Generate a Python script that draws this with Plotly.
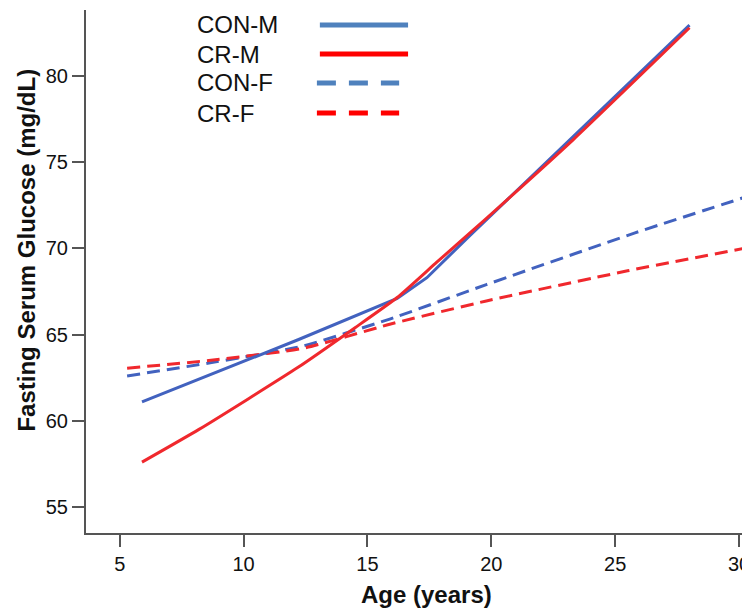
import plotly.graph_objects as go

# ---- data ----
series_names = ["CON-M", "CR-M", "CON-F", "CR-F"]

con_m_age = [5.9, 8.2, 12.2, 16.2, 17.4, 19.1, 28.0]
con_m_glu = [61.1, 62.4, 64.7, 67.1, 68.3, 70.7, 82.95]

cr_m_age = [5.9, 8.2, 12.2, 14.5, 16.2, 17.8, 19.3, 23.3, 28.0]
cr_m_glu = [57.6, 59.5, 63.1, 65.4, 67.15, 69.2, 71.1, 76.3, 82.8]

con_f_age = [5.3, 8.6, 12.3, 15.9, 19.8, 25.8, 30.2]
con_f_glu = [62.6, 63.35, 64.3, 65.9, 67.9, 70.9, 72.95]

cr_f_age = [5.3, 8.6, 12.4, 15.9, 19.8, 25.5, 30.2]
cr_f_glu = [63.05, 63.5, 64.2, 65.6, 66.95, 68.7, 70.0]

x_ticks = [5, 10, 15, 20, 25, 30]
y_ticks = [55, 60, 65, 70, 75, 80]

BLUE = "#4262BF"
RED = "#F0282D"
LEG_BLUE = "#4F81BD"
LEG_RED = "#FF0000"
FONT = "Liberation Sans, Arial, sans-serif"

fig = go.Figure()
fig.add_trace(go.Scatter(x=con_f_age, y=con_f_glu, mode="lines", name=series_names[2],
                         line=dict(color=BLUE, width=3, dash="13px,7px", shape="spline", smoothing=0.5)))
fig.add_trace(go.Scatter(x=cr_f_age, y=cr_f_glu, mode="lines", name=series_names[3],
                         line=dict(color=RED, width=3, dash="13px,7px", shape="spline", smoothing=0.5)))
fig.add_trace(go.Scatter(x=con_m_age, y=con_m_glu, mode="lines", name=series_names[0],
                         line=dict(color=BLUE, width=3)))
fig.add_trace(go.Scatter(x=cr_m_age, y=cr_m_glu, mode="lines", name=series_names[1],
                         line=dict(color=RED, width=3, shape="spline", smoothing=0.5)))

# ---- layout geometry (page has an 8px body offset) ----
OFF = 8
FW, FH = 742, 600
L, R, T, B = 78, 0, 2, 75
W, H = FW - L - R, FH - T - B
def px(xp): return (xp - OFF - L) / W
def py(yp): return (FH - B - (yp - OFF)) / H

# ---- custom legend (text left, line sample right) ----
leg_rows = [25, 54, 83, 113]
leg_colors = [LEG_BLUE, LEG_RED, LEG_BLUE, LEG_RED]
leg_dash = ["solid", "solid", "19px,13px", "19px,13px"]
shapes = []
annotations = []
for i, name in enumerate(series_names):
    yy = leg_rows[i]
    annotations.append(dict(x=px(196), y=py(yy), xref="paper", yref="paper", text=name,
                            showarrow=False, xanchor="left", yanchor="middle",
                            font=dict(family=FONT, size=24, color="#111")))
    x0, x1 = (322, 411) if i < 2 else (319, 402)
    shapes.append(dict(type="line", xref="paper", yref="paper", x0=px(x0), x1=px(x1),
                       y0=py(yy), y1=py(yy),
                       line=dict(color=leg_colors[i], width=5, dash=leg_dash[i])))

annotations.append(dict(x=px(25), y=py(250), xref="paper", yref="paper",
                        text="<b>Fasting Serum Glucose (mg/dL)</b>", textangle=-90, showarrow=False,
                        xanchor="center", yanchor="middle",
                        font=dict(family=FONT, size=24, color="#111")))
annotations.append(dict(x=px(430), y=py(594), xref="paper", yref="paper",
                        text="<b>Age (years)</b>", showarrow=False,
                        xanchor="center", yanchor="middle",
                        font=dict(family=FONT, size=24, color="#111")))

fig.update_layout(
    width=FW, height=FH,
    margin=dict(l=L, r=R, t=T, b=B),
    plot_bgcolor="white", paper_bgcolor="white",
    showlegend=False,
    shapes=shapes, annotations=annotations,
    xaxis=dict(range=[3.64, 30.2], tickvals=x_ticks, ticks="outside", ticklen=12, tickwidth=2,
               tickcolor="#555", showline=True, linecolor="#555", linewidth=2,
               showgrid=False, zeroline=False, ticklabeloverflow="allow",
               tickfont=dict(family=FONT, size=20, color="#111")),
    yaxis=dict(range=[53.49, 83.83], tickvals=y_ticks, ticks="outside", ticklen=12, tickwidth=2,
               tickcolor="#555", showline=True, linecolor="#555", linewidth=2,
               showgrid=False, zeroline=False,
               tickfont=dict(family=FONT, size=20, color="#111")),
)

fig.write_html("out.html")
